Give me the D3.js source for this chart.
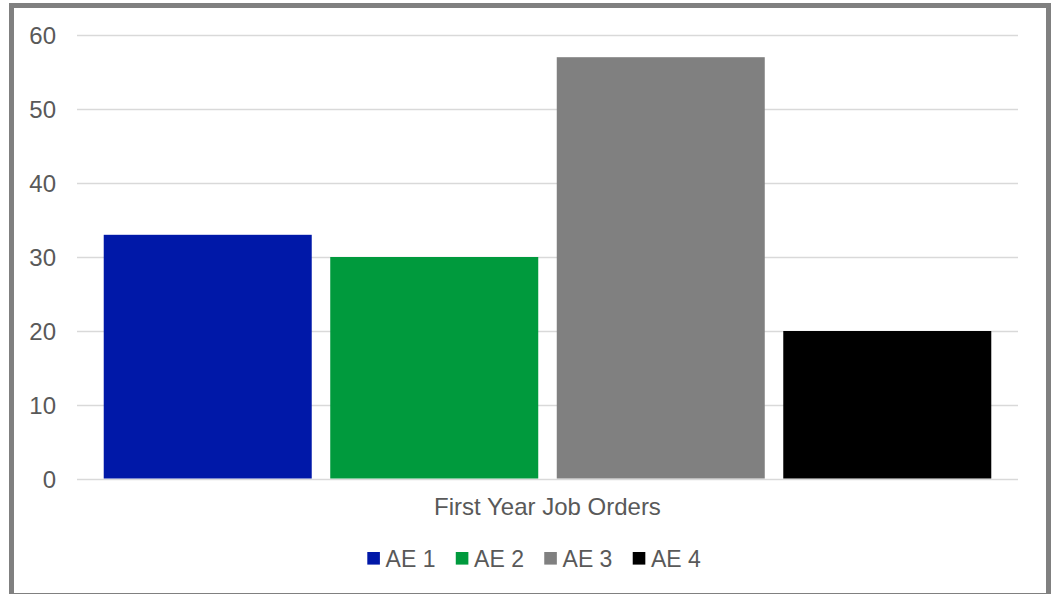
<!DOCTYPE html>
<html>
<head>
<meta charset="utf-8">
<script src="https://cdn.jsdelivr.net/npm/d3@7"></script>
<style>
html,body{margin:0;padding:0;background:#fff;}
svg{display:block;font-family:"Liberation Sans",Arial,sans-serif;}
</style>
</head>
<body>
<svg id="chart" width="1054" height="594"></svg>
<script>
const category = "First Year Job Orders";
const series = ["AE 1", "AE 2", "AE 3", "AE 4"];
const values = [33, 30, 57, 20];
const colors = ["#0018A8", "#009A3D", "#808080", "#000000"];
const yTicks = [0, 10, 20, 30, 40, 50, 60];

const svg = d3.select("#chart");
const W = 1054, H = 594;

// frame
svg.append("rect").attr("x", 0).attr("y", 0).attr("width", W).attr("height", H).attr("fill", "#fff");
svg.append("rect")
  .attr("x", 11.5).attr("y", 5.5).attr("width", 1037).attr("height", 590)
  .attr("fill", "#fff").attr("stroke", "#808080").attr("stroke-width", 5);

const plot = {left: 77, right: 1018, top: 35, bottom: 479};

const y = d3.scaleLinear().domain([0, 60]).range([plot.bottom, plot.top]);
const x = d3.scaleBand().domain(series).range([plot.left, plot.right])
  .paddingInner(0.0817).paddingOuter(0.118);

// gridlines
const yAxis = d3.axisLeft(y).tickValues(yTicks).tickSize(-(plot.right - plot.left)).tickPadding(21);
const g = svg.append("g").attr("transform", `translate(${plot.left},0)`).call(yAxis);
g.select(".domain").remove();
g.selectAll(".tick line").attr("stroke", "#d9d9d9").attr("stroke-width", 1.5);
g.selectAll(".tick text").attr("fill", "#595959").attr("font-size", 24)
  .attr("font-family", "'Liberation Sans',Arial,sans-serif").attr("dy", "0.36em");

// bars
svg.append("g").selectAll("rect").data(series).join("rect")
  .attr("x", d => x(d))
  .attr("width", x.bandwidth())
  .attr("y", (d, i) => y(values[i]))
  .attr("height", (d, i) => y(0) - y(values[i]) - 0.5)
  .attr("fill", (d, i) => colors[i]);

// category label
svg.append("text").attr("x", (plot.left + plot.right) / 2).attr("y", 515)
  .attr("text-anchor", "middle").attr("fill", "#595959").attr("font-size", 24)
  .text(category);

// legend
const leg = svg.append("g");
let lx = 367.3;
series.forEach((s, i) => {
  leg.append("rect").attr("x", lx).attr("y", 552).attr("width", 12.6).attr("height", 12.6).attr("fill", colors[i]);
  const t = leg.append("text").attr("x", lx + 18.3).attr("y", 566.7)
    .attr("fill", "#595959").attr("font-size", 23).text(s);
  const tw = t.node().getComputedTextLength();
  lx += 12.6 + 5.7 + tw + 20.3;
});
</script>
</body>
</html>
